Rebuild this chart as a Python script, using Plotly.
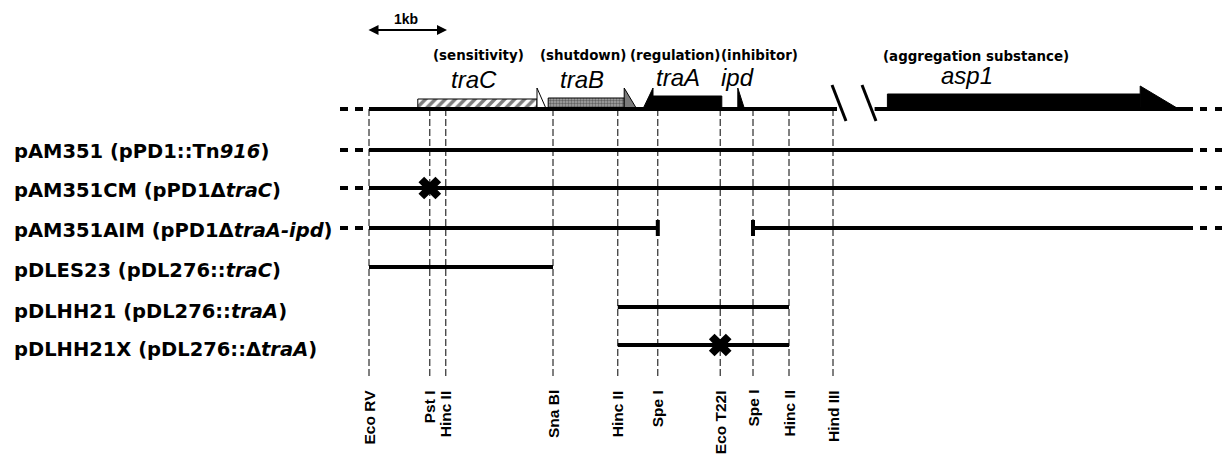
import plotly.graph_objects as go

# ---------------- data (kb coordinates along the map) ----------------
SITE_NAMES = ["Eco RV", "Pst I", "Hinc II", "Sna BI", "Hinc II", "Spe I",
              "Eco T22I", "Spe I", "Hinc II", "Hind III"]
SITE_KB = [0.0, 0.76, 0.96, 2.30, 3.11, 3.61, 4.39, 4.80, 5.25, 5.80]

GENE_NAMES = ["traC", "traB", "traA", "ipd", "asp1"]
GENE_FUNCTIONS = ["(sensitivity)", "(shutdown)", "(regulation)", "(inhibitor)",
                  "(aggregation substance)"]
GENE_START = [0.61, 2.24, 4.41, 4.61, 6.48]      # 5' end of the gene
GENE_HEAD = [2.10, 3.19, 3.55, 4.61, 9.64]       # start of arrow head
GENE_TIP = [2.21, 3.34, 3.43, 4.69, 10.10]       # arrow tip (3' end)
GENE_LABEL_KB = [1.31, 2.66, 3.86, 4.61, 7.47]
FUNC_LABEL_KB = [1.37, 2.68, 3.82, 4.88, 7.59]

MAP_SEGMENTS = [(0.0, 5.85), (6.32, 10.30)]
BREAK_KB = [5.875, 6.25]
SCALE_BAR_KB = (-0.025, 0.975)

CONSTRUCT_LABELS = [
    "pAM351 (pPD1::Tn<i>916</i>)",
    "pAM351CM (pPD1\u0394<i>traC</i>)",
    "pAM351AIM (pPD1\u0394<i>traA-ipd</i>)",
    "pDLES23 (pDL276::<i>traC</i>)",
    "pDLHH21 (pDL276::<i>traA</i>)",
    "pDLHH21X (pDL276::\u0394<i>traA</i>)",
]
CONSTRUCT_SEGMENTS = [
    [(0.0, 10.30)],
    [(0.0, 10.30)],
    [(0.0, 3.61), (4.80, 10.30)],
    [(0.0, 2.30)],
    [(3.11, 5.25)],
    [(3.11, 5.25)],
]
CONSTRUCT_CONTINUES = [True, True, True, False, False, False]
CONSTRUCT_END_TICKS = [[], [], [3.61, 4.80], [], [], []]
CONSTRUCT_MUTATION = [None, 0.76, None, None, None, 4.39]

# ---------------- layout constants ----------------
PX_PER_KB = 80.0
X0_PX = 369.0
W, H = 1228, 455
XR = [-X0_PX / PX_PER_KB, (W - X0_PX) / PX_PER_KB]

MAP_Y = 109
ROW_Y = [150, 188, 228, 267, 307, 345]
LABEL_DY = [1, 2, 2, 3, 4, 4]
DASH_TOP, DASH_BOTTOM = 109, 378
SITE_LABEL_Y = 388

BOLD = "DejaVu Sans"
ARIAL = "Liberation Sans"


def px(dpx):
    return dpx / PX_PER_KB


fig = go.Figure()
shapes = []
annotations = []


def hline(x0, x1, y, width=4, dash=None):
    d = dict(type="line", xref="x", yref="y", x0=x0, x1=x1, y0=y, y1=y,
             line=dict(color="black", width=width))
    if dash:
        d["line"]["dash"] = dash
    shapes.append(d)


def continuation(y, left=True, right=True):
    if left:
        hline(px(-29), px(-6), y, width=4, dash="8px,7px")
    if right:
        end = MAP_SEGMENTS[-1][1]
        hline(end + px(7), end + px(29), y, width=4, dash="7px,8px")


# restriction site dashed lines + labels
for name, kb in zip(SITE_NAMES, SITE_KB):
    shapes.append(dict(type="line", xref="x", yref="y", x0=kb, x1=kb,
                       y0=DASH_TOP, y1=DASH_BOTTOM,
                       line=dict(color="black", width=1, dash="7px,3px")))
    annotations.append(dict(x=kb, y=SITE_LABEL_Y, xref="x", yref="y",
                            text="<b>%s</b>" % name, textangle=-90,
                            showarrow=False, xanchor="center", yanchor="top",
                            font=dict(family=ARIAL, size=15.5, color="black")))

# gene boxes (bars)
box_style = {
    "traC": dict(top=99, color="white", pattern=dict(shape="/", fgcolor="black",
                                                     bgcolor="white", size=7, solidity=0.5)),
    "traB": dict(top=98, color="#8a8a8a", pattern=dict(shape=".", fgcolor="#1e1e1e",
                                                       bgcolor="#a8a8a8", size=3, solidity=0.5)),
    "traA": dict(top=96, color="black", pattern=None),
    "asp1": dict(top=94, color="black", pattern=None),
}
head_fill = {"traC": "white", "traB": "#7a7a7a", "traA": "black", "ipd": "black", "asp1": "black"}
head_top = {"traC": 88, "traB": 88, "traA": 88, "ipd": 88, "asp1": 86}
label_y = {"traC": 79, "traB": 79, "traA": 77, "ipd": 77, "asp1": 75}
func_y = {"traC": 55, "traB": 55, "traA": 55, "ipd": 55, "asp1": 56.5}

for i, g in enumerate(GENE_NAMES):
    if g in box_style:
        st = box_style[g]
        lo, hi = sorted([GENE_START[i], GENE_HEAD[i]])
        marker = dict(color=st["color"], line=dict(color="black", width=1))
        if st["pattern"]:
            marker["pattern"] = st["pattern"]
        fig.add_trace(go.Bar(orientation="h", y=[(st["top"] + MAP_Y) / 2],
                             x=[hi - lo], base=[lo], width=[MAP_Y - st["top"]],
                             marker=marker, showlegend=False, hoverinfo="skip"))
    # arrow head (half arrow above the line)
    fig.add_trace(go.Scatter(
        x=[GENE_HEAD[i], GENE_HEAD[i], GENE_TIP[i], GENE_HEAD[i]],
        y=[MAP_Y, head_top[g], MAP_Y - 1, MAP_Y],
        mode="lines", fill="toself", fillcolor=head_fill[g],
        line=dict(color="black", width=1), showlegend=False, hoverinfo="skip"))
    annotations.append(dict(x=GENE_LABEL_KB[i], y=label_y[g],
                            xref="x", yref="y", text="<i>%s</i>" % g,
                            showarrow=False, xanchor="center", yanchor="middle",
                            font=dict(family=ARIAL, size=24, color="black")))
    annotations.append(dict(x=FUNC_LABEL_KB[i], y=func_y[g],
                            xref="x", yref="y", text="<b>%s</b>" % GENE_FUNCTIONS[i],
                            showarrow=False, xanchor="center", yanchor="middle",
                            font=dict(family=BOLD, size=13.4, color="black")))

# map line
for a, b in MAP_SEGMENTS:
    hline(a, b, MAP_Y, width=4)
continuation(MAP_Y)

# break marks
for bk in BREAK_KB:
    shapes.append(dict(type="line", xref="x", yref="y",
                       x0=bk - px(7), x1=bk + px(7), y0=85, y1=121,
                       line=dict(color="black", width=3)))

# scale bar
annotations.append(dict(x=SCALE_BAR_KB[1], y=30, ax=SCALE_BAR_KB[0], ay=30,
                        xref="x", yref="y", axref="x", ayref="y", text="",
                        showarrow=True, arrowhead=2, arrowside="end+start",
                        arrowsize=1, arrowwidth=2, arrowcolor="black",
                        standoff=0, startstandoff=0))
annotations.append(dict(x=sum(SCALE_BAR_KB) / 2 - 0.01, y=19, xref="x", yref="y",
                        text="<b>1kb</b>", showarrow=False,
                        font=dict(family=ARIAL, size=14, color="black")))

# constructs
mx, my = [], []
for r, label in enumerate(CONSTRUCT_LABELS):
    y = ROW_Y[r]
    for a, b in CONSTRUCT_SEGMENTS[r]:
        hline(a, b, y, width=4)
    if CONSTRUCT_CONTINUES[r]:
        continuation(y)
    for t in CONSTRUCT_END_TICKS[r]:
        shapes.append(dict(type="line", xref="x", yref="y", x0=t, x1=t,
                           y0=y - 8, y1=y + 8, line=dict(color="black", width=4)))
    if CONSTRUCT_MUTATION[r] is not None:
        mx.append(CONSTRUCT_MUTATION[r])
        my.append(y)
    annotations.append(dict(x=XR[0] + px(12), y=y + LABEL_DY[r], xref="x", yref="y",
                            text="<b>%s</b>" % label, showarrow=False,
                            xanchor="left", yanchor="middle",
                            font=dict(family=BOLD, size=19.5, color="black")))

fig.add_trace(go.Scatter(x=mx, y=my, mode="markers",
                         marker=dict(symbol="x", size=20, color="black",
                                     line=dict(width=0)),
                         showlegend=False, hoverinfo="skip"))

fig.update_layout(
    width=W, height=H, autosize=False,
    margin=dict(l=0, r=0, t=0, b=0),
    paper_bgcolor="white", plot_bgcolor="white",
    xaxis=dict(range=XR, visible=False, fixedrange=True),
    yaxis=dict(range=[H, 0], visible=False, fixedrange=True),
    shapes=shapes, annotations=annotations, showlegend=False,
    barmode="overlay",
)

fig.write_html("out.html")
